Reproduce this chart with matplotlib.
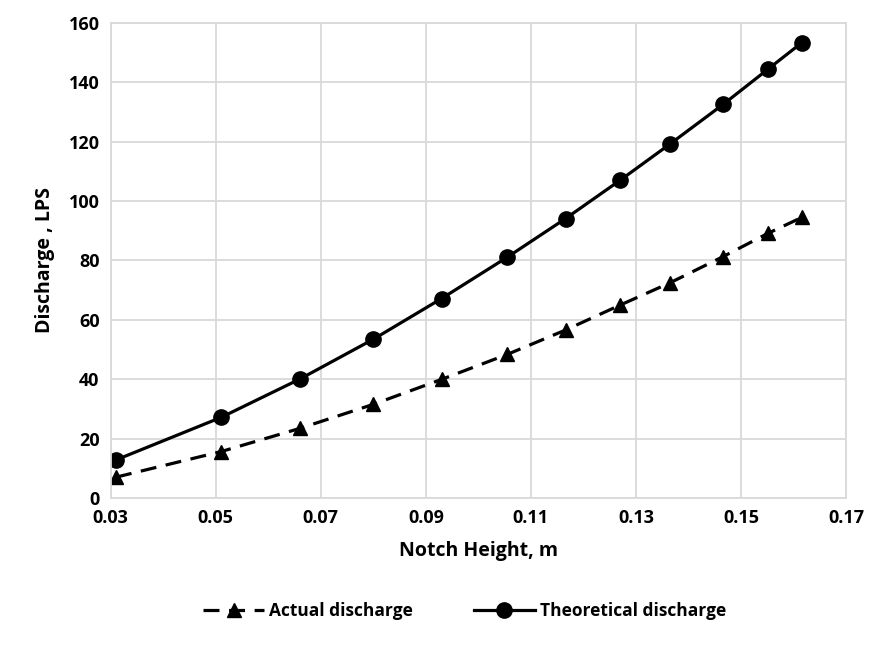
import matplotlib.pyplot as plt

# notch height (m) and discharges (LPS)
notch_height = [0.031, 0.051, 0.066, 0.080, 0.093, 0.1055, 0.1166, 0.127, 0.1365, 0.1466, 0.1551, 0.1616]
actual_q = [7.1, 15.7, 23.5, 31.6, 40.0, 48.4, 56.6, 65.0, 72.5, 81.3, 89.1, 94.5]
theoretical_q = [12.9, 27.2, 40.1, 53.5, 67.2, 81.1, 94.1, 107.0, 119.2, 132.5, 144.3, 153.3]

x_ticks = [0.03, 0.05, 0.07, 0.09, 0.11, 0.13, 0.15, 0.17]
y_ticks = [0, 20, 40, 60, 80, 100, 120, 140, 160]

plt.rcParams['font.family'] = ['Open Sans', 'DejaVu Sans']
plt.rcParams['font.weight'] = 'bold'

fig = plt.figure(figsize=(8.69, 6.51), dpi=100)
ax = fig.add_axes([0.1274, 0.2346, 0.8461, 0.7305])

ax.plot(notch_height, actual_q, color='black', linewidth=2.3, linestyle=(0, (5, 3)),
        marker='^', markersize=10, label='Actual discharge')
ax.plot(notch_height, theoretical_q, color='black', linewidth=2.3,
        marker='o', markersize=11, label='Theoretical discharge')

ax.set_xlim(0.03, 0.17)
ax.set_ylim(0, 160)
ax.set_xticks(x_ticks)
ax.set_xticklabels(['%.2f' % v for v in x_ticks])
ax.set_yticks(y_ticks)
ax.grid(True, color='#d9d9d9', linewidth=1.3)
ax.set_axisbelow(True)
for s in ax.spines.values():
    s.set_color('#d9d9d9')
    s.set_linewidth(1.3)
ax.tick_params(length=0, labelsize=13, pad=8)
for lab in ax.get_xticklabels() + ax.get_yticklabels():
    lab.set_fontweight('bold')

ax.set_xlabel('Notch Height, m', fontsize=14, fontweight='bold', labelpad=10)
ax.set_ylabel('Discharge , LPS', fontsize=14, fontweight='bold', labelpad=10)

leg = fig.legend(loc='center', bbox_to_anchor=(0.535, 0.062), ncol=2, frameon=False,
                 fontsize=12.5, handlelength=3.5, handletextpad=0.3, columnspacing=3.5)
for t in leg.get_texts():
    t.set_fontweight('bold')

fig.savefig('out.png', dpi=100)
